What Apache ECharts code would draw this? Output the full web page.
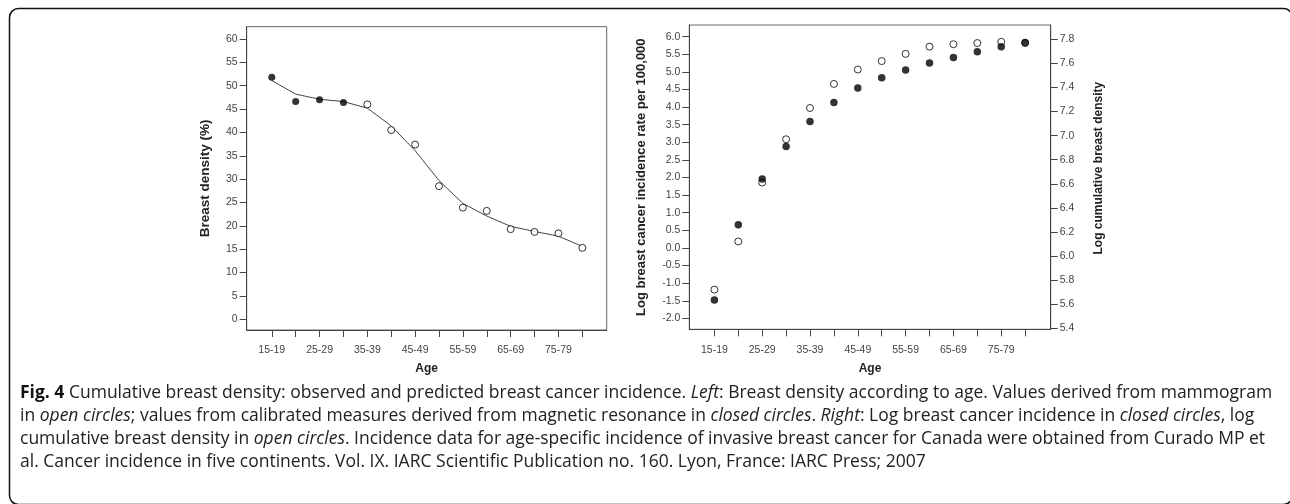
<!DOCTYPE html>
<html>
<head>
<meta charset="utf-8">
<script src="https://cdn.jsdelivr.net/npm/echarts@6/dist/echarts.min.js"></script>
<style>
html,body{margin:0;padding:0;background:#fff;}
#chart{width:1290px;height:504px;}
</style>
</head>
<body>
<div id="chart"></div>
<script>
// ---- data ----
var ageGroups = ['15-19','20-24','25-29','30-34','35-39','40-44','45-49','50-54','55-59','60-64','65-69','70-74','75-79','80-84'];
var labelAges = [0, 2, 4, 6, 8, 10, 12];
// left panel: breast density (%)
var densityMRI = [51.8, 46.6, 47.0, 46.4, null, null, null, null, null, null, null, null, null, null];
var densityMammogram = [null, null, null, null, 46.0, 40.5, 37.4, 28.5, 23.9, 23.2, 19.3, 18.7, 18.4, 15.3];
var densityFit = [51.1, 48.2, 47.1, 46.6, 45.2, 41.4, 36.1, 29.7, 24.8, 22.1, 19.9, 18.8, 17.8, 15.6];
var leftTicks = [0, 5, 10, 15, 20, 25, 30, 35, 40, 45, 50, 55, 60];
// right panel
var logIncidence = [-1.48, 0.66, 1.96, 2.88, 3.59, 4.13, 4.54, 4.83, 5.05, 5.25, 5.41, 5.57, 5.71, 5.83];
var logCumDensity = [5.72, 6.12, 6.61, 6.97, 7.23, 7.43, 7.55, 7.62, 7.68, 7.74, 7.76, 7.77, 7.78, 7.77];
var incidenceTicks = [-2.0, -1.5, -1.0, -0.5, 0.0, 0.5, 1.0, 1.5, 2.0, 2.5, 3.0, 3.5, 4.0, 4.5, 5.0, 5.5, 6.0];
var cumDensityTicks = [5.4, 5.6, 5.8, 6.0, 6.2, 6.4, 6.6, 6.8, 7.0, 7.2, 7.4, 7.6, 7.8];

var captionLines = [
  '{b|Fig. 4} Cumulative breast density: observed and predicted breast cancer incidence. {i|Left}: Breast density according to age. Values derived from mammogram',
  'in {i|open circles}; values from calibrated measures derived from magnetic resonance in {i|closed circles}. {i|Right}: Log breast cancer incidence in {i|closed circles}, log',
  'cumulative breast density in {i|open circles}. Incidence data for age-specific incidence of invasive breast cancer for Canada were obtained from Curado MP et',
  'al. Cancer incidence in five continents. Vol. IX. IARC Scientific Publication no. 160. Lyon, France: IARC Press; 2007'
];

// ---- helpers ----
function pairs(arr){ return arr.map(function(v,i){ return v == null ? null : [i, v]; }).filter(function(p){ return p; }); }
var idx = ageGroups.map(function(_, i){ return i; });
var FONT = '"Liberation Sans", Arial, sans-serif';
var axisColor = '#444';

function xAxisDef(gridIndex, max){
  return {
    type: 'value', gridIndex: gridIndex, min: -1.05, max: max,
    name: 'Age', nameLocation: 'middle', nameGap: 33,
    nameTextStyle: {fontFamily: FONT, fontWeight: 'bold', fontSize: 12, color: '#222'},
    axisLine: {show: true, onZero: false, lineStyle: {color: axisColor}},
    axisTick: {show: true, length: 7, lineStyle: {color: axisColor}, customValues: idx},
    axisLabel: {fontFamily: FONT, fontSize: 10.5, color: '#444', margin: 15,
      customValues: labelAges, formatter: function(v){ return ageGroups[Math.round(v)]; }},
    splitLine: {show: false}
  };
}
function yAxisDef(gridIndex, min, max, ticks, name, gap, pos, fmt, size, pad){
  return {
    type: 'value', gridIndex: gridIndex, min: min, max: max, position: pos,
    name: name, nameLocation: 'middle', nameGap: gap, nameRotate: 90,
    nameTextStyle: {fontFamily: FONT, fontWeight: 'bold', fontSize: size, color: '#222', padding: pad || 0},
    axisLine: {show: true, onZero: false, lineStyle: {color: axisColor}},
    axisTick: {show: true, length: 7, lineStyle: {color: axisColor}, customValues: ticks},
    axisLabel: {fontFamily: FONT, fontSize: 10.5, color: '#444', margin: 9,
      customValues: ticks, formatter: fmt},
    splitLine: {show: false}
  };
}

var graphics = [{
  type: 'rect', shape: {x: 9.5, y: 8.5, width: 1283, height: 496, r: 9},
  style: {fill: 'none', stroke: '#111', lineWidth: 1.5}, silent: true
}];
captionLines.forEach(function(t, k){
  graphics.push({
    type: 'text', left: 20, top: 384 + k * 23,
    style: {
      text: t, fill: '#222',
      font: '17.5px "Open Sans", sans-serif',
      rich: {
        b: {fontFamily: '"Open Sans", sans-serif', fontSize: 17.5, fontWeight: 'bold', fill: '#111'},
        i: {fontFamily: '"Open Sans", sans-serif', fontSize: 17.5, fontStyle: 'italic', fill: '#222'}
      }
    }
  });
});

var openSym = {color: '#fff', borderColor: '#000', borderWidth: 1};
var chart = echarts.init(document.getElementById('chart'));
chart.setOption({
  backgroundColor: '#fff',
  animation: false,
  grid: [
    {left: 246.7, top: 26.7, width: 360, height: 303.3, show: true, borderColor: '#666', borderWidth: 1},
    {left: 689.3, top: 25, width: 361.4, height: 304.3, show: true, borderColor: '#666', borderWidth: 1}
  ],
  xAxis: [xAxisDef(0, 14.02), xAxisDef(1, 14.07)],
  yAxis: [
    yAxisDef(0, -2.29, 62.63, leftTicks, 'Breast density (%)', 34, 'left', function(v){ return String(Math.round(v)); }, 13.5),
    yAxisDef(1, -2.31, 6.33, incidenceTicks, 'Log breast cancer incidence rate per 100,000', 41, 'left', function(v){ return v.toFixed(1); }, 13),
    yAxisDef(1, 5.39, 7.92, cumDensityTicks, 'Log cumulative breast density', 42, 'right', function(v){ return v.toFixed(1); }, 12, [0, 0, 0, 18])
  ],
  series: [
    {type: 'line', xAxisIndex: 0, yAxisIndex: 0, data: pairs(densityFit), symbol: 'none',
      lineStyle: {color: '#444', width: 1}, z: 2},
    {type: 'scatter', xAxisIndex: 0, yAxisIndex: 0, data: pairs(densityMRI), symbol: 'circle', symbolSize: 7,
      itemStyle: {color: '#000'}, z: 3},
    {type: 'scatter', xAxisIndex: 0, yAxisIndex: 0, data: pairs(densityMammogram), symbol: 'circle', symbolSize: 7,
      itemStyle: openSym, z: 3},
    {type: 'scatter', xAxisIndex: 1, yAxisIndex: 2, data: pairs(logCumDensity), symbol: 'circle', symbolSize: 7,
      itemStyle: openSym, z: 3},
    {type: 'scatter', xAxisIndex: 1, yAxisIndex: 1, data: pairs(logIncidence), symbol: 'circle', symbolSize: 7.5,
      itemStyle: {color: '#000'}, z: 4}
  ],
  graphic: graphics
});
</script>
</body>
</html>
